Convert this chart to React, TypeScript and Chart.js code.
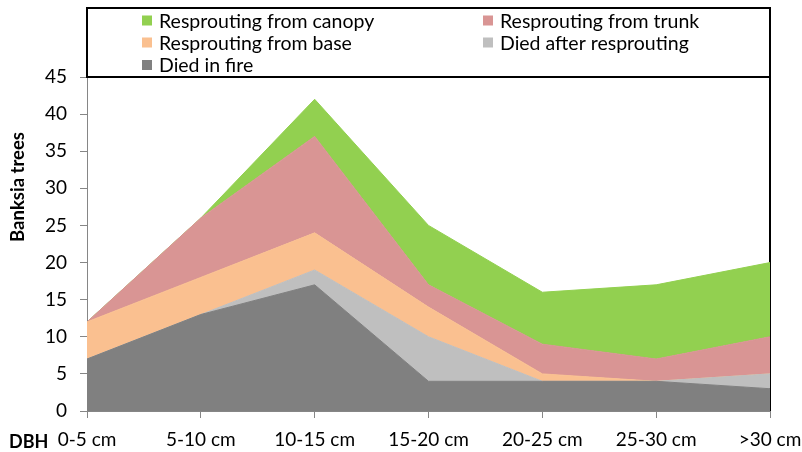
import React, { useEffect, useRef } from "react";
import { Chart, registerables } from "chart.js";

Chart.register(...registerables);

const categories = ["0-5 cm", "5-10 cm", "10-15 cm", "15-20 cm", "20-25 cm", "25-30 cm", ">30 cm"];
const diedInFire = [7, 13, 17, 4, 4, 4, 3];
const diedAfterResprouting = [0, 0, 2, 6, 0, 0, 2];
const resproutingFromBase = [5, 5, 5, 4, 1, 0, 0];
const resproutingFromTrunk = [0, 8, 13, 3, 4, 3, 5];
const resproutingFromCanopy = [0, 0, 5, 8, 7, 10, 10];
const yTitle = "Banksia trees";
const xTitle = "DBH";
const yMin = 0;
const yMax = 45;
const yStep = 5;

const seriesNames = [
  "Died in fire",
  "Died after resprouting",
  "Resprouting from base",
  "Resprouting from trunk",
  "Resprouting from canopy",
];
const seriesValues = [diedInFire, diedAfterResprouting, resproutingFromBase, resproutingFromTrunk, resproutingFromCanopy];
const seriesColors = ["#808080", "#BFBFBF", "#FAC090", "#D99594", "#92D050"];
// legend order (row-major, two columns)
const legendOrder = [4, 3, 2, 1, 0];

const FONT = "Lato, 'Open Sans', sans-serif";

const decorPlugin = {
  id: "decor",
  beforeDatasetsDraw(chart: any) {
    const { ctx, chartArea } = chart;
    ctx.save();
    ctx.strokeStyle = "#000";
    ctx.lineWidth = 2;
    ctx.beginPath();
    ctx.moveTo(chartArea.right, chartArea.top);
    ctx.lineTo(chartArea.right, chartArea.bottom);
    ctx.stroke();
    ctx.restore();
  },
  afterDraw(chart: any) {
    const { ctx, chartArea } = chart;
    ctx.save();
    // legend box
    const boxTop = 8;
    ctx.strokeStyle = "#000";
    ctx.lineWidth = 2;
    ctx.strokeRect(chartArea.left, boxTop, chartArea.right - chartArea.left, chartArea.top - boxTop);
    const colX = [chartArea.left + 55, chartArea.left + 396];
    const rowY = [20.5, 42.5, 65];
    ctx.font = `19.5px ${FONT}`;
    ctx.textBaseline = "middle";
    ctx.textAlign = "left";
    legendOrder.forEach((si, i) => {
      const x = colX[i % 2];
      const y = rowY[Math.floor(i / 2)];
      ctx.fillStyle = seriesColors[si];
      ctx.fillRect(x, y - 5, 10, 10);
      ctx.fillStyle = "#000";
      ctx.fillText(seriesNames[si], x + 17, y + 1);
    });
    // y title
    ctx.save();
    ctx.translate(18, 187);
    ctx.rotate(-Math.PI / 2);
    ctx.font = `bold 18.5px ${FONT}`;
    ctx.textAlign = "center";
    ctx.textBaseline = "middle";
    ctx.fillStyle = "#000";
    ctx.fillText(yTitle, 0, 0);
    ctx.restore();
    // x title
    ctx.font = `bold 18px ${FONT}`;
    ctx.textAlign = "left";
    ctx.textBaseline = "middle";
    ctx.fillStyle = "#000";
    ctx.fillText(xTitle, 9, 442);
    ctx.restore();
  },
};

export default function App() {
  const ref = useRef<HTMLCanvasElement | null>(null);
  useEffect(() => {
    document.body.style.margin = "0";
    const canvas = ref.current!;
    const chart = new Chart(canvas, {
      type: "line",
      data: {
        labels: categories,
        datasets: seriesValues.map((vals, i) => ({
          label: seriesNames[i],
          data: vals,
          fill: i === 0 ? "origin" : "-1",
          backgroundColor: seriesColors[i],
          borderColor: seriesColors[i],
          borderWidth: 1,
          pointRadius: 0,
          pointHoverRadius: 0,
          tension: 0,
        })),
      },
      options: {
        animation: false,
        responsive: false,
        maintainAspectRatio: false,
        events: [],
        layout: { padding: { left: 0, top: 77, right: 32, bottom: 0 } },
        plugins: {
          legend: { display: false },
          tooltip: { enabled: false },
        },
        scales: {
          x: {
            offset: false,
            grid: { display: true, drawOnChartArea: false, drawTicks: true, tickLength: 7, color: "#868686" },
            border: { display: true, color: "#868686" },
            ticks: { font: { family: FONT, size: 19 }, color: "#000", padding: 10, maxRotation: 0, autoSkip: false },
            afterFit: (s: any) => {
              s.height = 41;
              s.paddingLeft = 0;
              s.paddingRight = 0;
            },
          },
          y: {
            stacked: true,
            min: yMin,
            max: yMax,
            grid: { display: true, drawOnChartArea: false, drawTicks: true, tickLength: 7, color: "#868686" },
            border: { display: true, color: "#868686" },
            ticks: { stepSize: yStep, font: { family: FONT, size: 19 }, color: "#000", padding: 13 },
            afterFit: (s: any) => {
              s.width = 87;
              s.paddingTop = 0;
              s.paddingBottom = 0;
            },
          },
        },
      },
      plugins: [decorPlugin],
    });
    return () => chart.destroy();
  }, []);
  return (
    <div style={{ width: 802, height: 452 }}>
      <canvas ref={ref} width={802} height={452} style={{ display: "block" }} />
    </div>
  );
}
